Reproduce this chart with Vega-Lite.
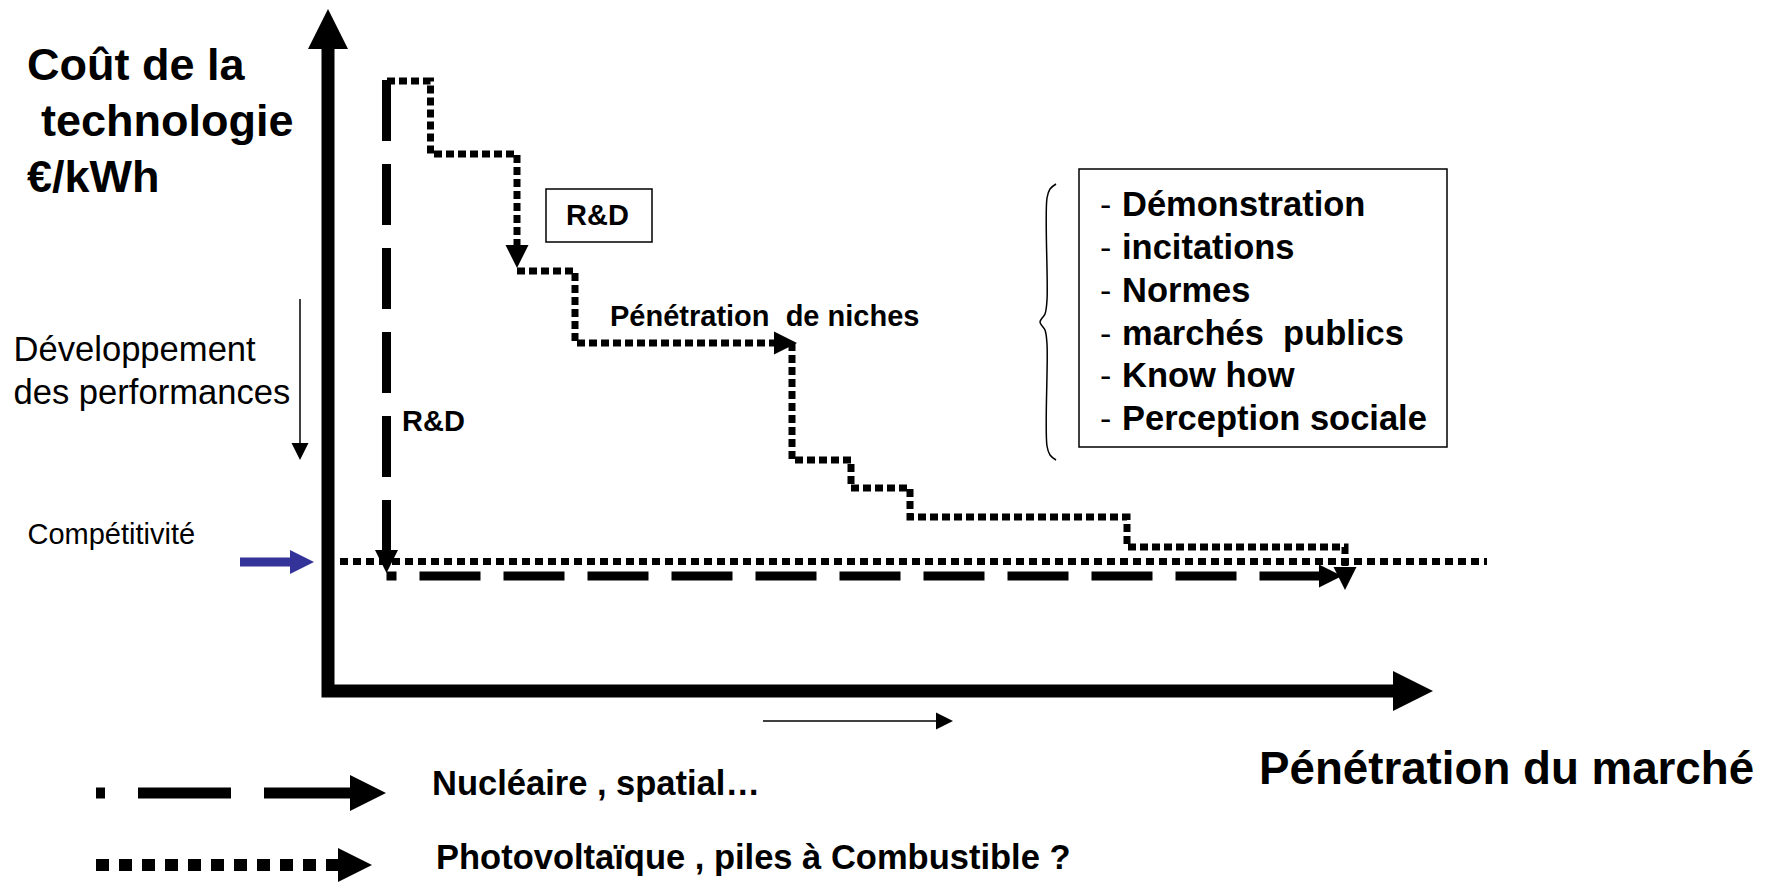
{
  "$schema": "https://vega.github.io/schema/vega-lite/v6.json",
  "width": 1767,
  "height": 882,
  "padding": 0,
  "autosize": {"type": "none"},
  "background": "white",
  "config": {"view": {"stroke": null}},
  "datasets": {
    "axesLine": [{"x": 328, "y": 48, "i": 0}, {"x": 328, "y": 691, "i": 1}, {"x": 1394, "y": 691, "i": 2}],
    "headUpBig": [{"x": 328, "y": 9}],
    "headRightBig": [{"x": 1433, "y": 691}],
    "compet": [{"x": 340, "y": 561.5, "i": 0}, {"x": 1487, "y": 561.5, "i": 1}],
    "nucV": [{"x": 386.5, "y": 80, "i": 0}, {"x": 386.5, "y": 560, "i": 1}],
    "nucH": [{"x": 386.5, "y": 576, "i": 0}, {"x": 1322, "y": 576, "i": 1}],
    "headsDown": [{"x": 386.5, "y": 573}, {"x": 517, "y": 268}, {"x": 1345, "y": 590}],
    "headsRight": [{"x": 1342, "y": 576}, {"x": 797, "y": 343}],
    "dotted": [
      {"seg": "a", "i": 0, "x": 387, "y": 81},
      {"seg": "a", "i": 1, "x": 430.5, "y": 81},
      {"seg": "a", "i": 2, "x": 430.5, "y": 154},
      {"seg": "a", "i": 3, "x": 517, "y": 154},
      {"seg": "a", "i": 4, "x": 517, "y": 250},
      {"seg": "b", "i": 0, "x": 517, "y": 271},
      {"seg": "b", "i": 1, "x": 575, "y": 271},
      {"seg": "b", "i": 2, "x": 575, "y": 343},
      {"seg": "b", "i": 3, "x": 775, "y": 343},
      {"seg": "c", "i": 0, "x": 792, "y": 343},
      {"seg": "c", "i": 1, "x": 792, "y": 460},
      {"seg": "c", "i": 2, "x": 851, "y": 460},
      {"seg": "c", "i": 3, "x": 851, "y": 488},
      {"seg": "c", "i": 4, "x": 910, "y": 488},
      {"seg": "c", "i": 5, "x": 910, "y": 517},
      {"seg": "c", "i": 6, "x": 1127, "y": 517},
      {"seg": "c", "i": 7, "x": 1127, "y": 547},
      {"seg": "c", "i": 8, "x": 1345, "y": 547},
      {"seg": "c", "i": 9, "x": 1345, "y": 572}
    ],
    "boxes": [{"x": 546, "x2": 652, "y": 189, "y2": 242}, {"x": 1079, "x2": 1447, "y": 169, "y2": 447}],
    "brace": [
      {"i": 0, "x": 1056, "y": 184},
      {"i": 1, "x": 1050, "y": 189},
      {"i": 2, "x": 1047, "y": 198},
      {"i": 3, "x": 1047, "y": 300},
      {"i": 4, "x": 1045, "y": 314},
      {"i": 5, "x": 1040, "y": 322},
      {"i": 6, "x": 1045, "y": 330},
      {"i": 7, "x": 1047, "y": 344},
      {"i": 8, "x": 1047, "y": 446},
      {"i": 9, "x": 1050, "y": 455},
      {"i": 10, "x": 1056, "y": 460}
    ],
    "thinLines": [
      {"seg": "d", "i": 0, "x": 300, "y": 299},
      {"seg": "d", "i": 1, "x": 300, "y": 447},
      {"seg": "r", "i": 0, "x": 763, "y": 721},
      {"seg": "r", "i": 1, "x": 940, "y": 721}
    ],
    "thinHeadDown": [{"x": 300, "y": 460}],
    "thinHeadRight": [{"x": 953, "y": 721}],
    "blueLine": [{"x": 240, "y": 562, "i": 0}, {"x": 292, "y": 562, "i": 1}],
    "blueHead": [{"x": 314, "y": 562}],
    "legDash": [{"x": 96, "y": 793, "i": 0}, {"x": 352, "y": 793, "i": 1}],
    "legDashHead": [{"x": 386, "y": 793}],
    "legDot": [{"x": 96, "y": 865, "i": 0}, {"x": 340, "y": 865, "i": 1}],
    "legDotHead": [{"x": 372, "y": 865}],
    "titleText": [
      {"t": "Coût de la", "x": 27, "y": 80},
      {"t": "technologie", "x": 41, "y": 136},
      {"t": "€/kWh", "x": 27, "y": 192}
    ],
    "axisText": [
      {"t": "Pénétration du marché", "x": 1259, "y": 784}
    ],
    "midText": [
      {"t": "Démonstration", "x": 1122, "y": 216},
      {"t": "incitations", "x": 1122, "y": 259},
      {"t": "Normes", "x": 1122, "y": 302},
      {"t": "marchés\u00a0 publics", "x": 1122, "y": 345},
      {"t": "Know how", "x": 1122, "y": 387},
      {"t": "Perception sociale", "x": 1122, "y": 430},
      {"t": "Nucléaire , spatial…", "x": 432, "y": 795},
      {"t": "Photovoltaïque , piles à Combustible ?", "x": 436, "y": 869}
    ],
    "dashText": [
      {"t": "-", "x": 1100, "y": 216},
      {"t": "-", "x": 1100, "y": 259},
      {"t": "-", "x": 1100, "y": 302},
      {"t": "-", "x": 1100, "y": 345},
      {"t": "-", "x": 1100, "y": 387},
      {"t": "-", "x": 1100, "y": 430}
    ],
    "smallBold": [
      {"t": "R&D", "x": 566, "y": 225},
      {"t": "R&D", "x": 402, "y": 431},
      {"t": "Pénétration\u00a0 de niches", "x": 610, "y": 326}
    ],
    "regText": [
      {"t": "Développement", "x": 13.5, "y": 361},
      {"t": "des performances", "x": 13.5, "y": 404}
    ],
    "competText": [{"t": "Compétitivité", "x": 27.5, "y": 544}]
  },
  "encoding": {
    "x": {"field": "x", "type": "quantitative", "scale": {"domain": [0, 1767], "nice": false, "zero": false}, "axis": null},
    "y": {"field": "y", "type": "quantitative", "scale": {"domain": [0, 882], "nice": false, "zero": false, "reverse": true}, "axis": null}
  },
  "layer": [
    {"data": {"name": "boxes"}, "mark": {"type": "rect", "fill": "white", "stroke": "black", "strokeWidth": 1.5}, "encoding": {"x2": {"field": "x2"}, "y2": {"field": "y2"}}},
    {"data": {"name": "axesLine"}, "mark": {"type": "line", "color": "black", "strokeWidth": 13, "strokeJoin": "miter", "strokeCap": "butt"}, "encoding": {"order": {"field": "i"}}},
    {"data": {"name": "headUpBig"}, "mark": {"type": "point", "shape": "M0,0L-2,-1L-2,1Z", "filled": true, "opacity": 1, "color": "black", "strokeWidth": 0, "size": 1600, "angle": 270}},
    {"data": {"name": "headRightBig"}, "mark": {"type": "point", "shape": "M0,0L-2,-1L-2,1Z", "filled": true, "opacity": 1, "color": "black", "strokeWidth": 0, "size": 1600, "angle": 0}},
    {"data": {"name": "compet"}, "mark": {"type": "line", "color": "black", "strokeWidth": 7, "strokeDash": [8, 5], "strokeCap": "butt"}, "encoding": {"order": {"field": "i"}}},
    {"data": {"name": "nucV"}, "mark": {"type": "line", "color": "black", "strokeWidth": 9, "strokeDash": [61, 23], "strokeCap": "butt"}, "encoding": {"order": {"field": "i"}}},
    {"data": {"name": "nucH"}, "mark": {"type": "line", "color": "black", "strokeWidth": 9, "strokeDash": [61, 23], "strokeDashOffset": 51, "strokeCap": "butt"}, "encoding": {"order": {"field": "i"}}},
    {"data": {"name": "dotted"}, "mark": {"type": "line", "color": "black", "strokeWidth": 7, "strokeDash": [8, 4], "strokeCap": "butt", "strokeJoin": "miter"}, "encoding": {"order": {"field": "i"}, "detail": {"field": "seg"}}},
    {"data": {"name": "headsDown"}, "mark": {"type": "point", "shape": "M0,0L-2,-1L-2,1Z", "filled": true, "opacity": 1, "color": "black", "strokeWidth": 0, "size": 529, "angle": 90}},
    {"data": {"name": "headsRight"}, "mark": {"type": "point", "shape": "M0,0L-2,-1L-2,1Z", "filled": true, "opacity": 1, "color": "black", "strokeWidth": 0, "size": 529, "angle": 0}},
    {"data": {"name": "brace"}, "mark": {"type": "line", "color": "black", "strokeWidth": 1.5, "interpolate": "catmull-rom"}, "encoding": {"order": {"field": "i"}}},
    {"data": {"name": "thinLines"}, "mark": {"type": "line", "color": "black", "strokeWidth": 1.5}, "encoding": {"order": {"field": "i"}, "detail": {"field": "seg"}}},
    {"data": {"name": "thinHeadDown"}, "mark": {"type": "point", "shape": "M0,0L-2,-1L-2,1Z", "filled": true, "opacity": 1, "color": "black", "strokeWidth": 0, "size": 289, "angle": 90}},
    {"data": {"name": "thinHeadRight"}, "mark": {"type": "point", "shape": "M0,0L-2,-1L-2,1Z", "filled": true, "opacity": 1, "color": "black", "strokeWidth": 0, "size": 289, "angle": 0}},
    {"data": {"name": "blueLine"}, "mark": {"type": "line", "color": "#333399", "strokeWidth": 9, "strokeCap": "butt"}, "encoding": {"order": {"field": "i"}}},
    {"data": {"name": "blueHead"}, "mark": {"type": "point", "shape": "M0,0L-2,-1L-2,1Z", "filled": true, "opacity": 1, "color": "#333399", "strokeWidth": 0, "size": 576, "angle": 0}},
    {"data": {"name": "legDash"}, "mark": {"type": "line", "color": "black", "strokeWidth": 11, "strokeDash": [93, 33], "strokeDashOffset": 84, "strokeCap": "butt"}, "encoding": {"order": {"field": "i"}}},
    {"data": {"name": "legDashHead"}, "mark": {"type": "point", "shape": "M0,0L-2,-1L-2,1Z", "filled": true, "opacity": 1, "color": "black", "strokeWidth": 0, "size": 1296, "angle": 0}},
    {"data": {"name": "legDot"}, "mark": {"type": "line", "color": "black", "strokeWidth": 12, "strokeDash": [13, 10], "strokeCap": "butt"}, "encoding": {"order": {"field": "i"}}},
    {"data": {"name": "legDotHead"}, "mark": {"type": "point", "shape": "M0,0L-2,-1L-2,1Z", "filled": true, "opacity": 1, "color": "black", "strokeWidth": 0, "size": 1156, "angle": 0}},
    {"data": {"name": "titleText"}, "mark": {"type": "text", "font": "Liberation Sans", "fontWeight": "bold", "fontSize": 45, "align": "left", "baseline": "alphabetic", "color": "black"}, "encoding": {"text": {"field": "t"}}},
    {"data": {"name": "axisText"}, "mark": {"type": "text", "font": "Liberation Sans", "fontWeight": "bold", "fontSize": 45.7, "align": "left", "baseline": "alphabetic", "color": "black"}, "encoding": {"text": {"field": "t"}}},
    {"data": {"name": "midText"}, "mark": {"type": "text", "font": "Liberation Sans", "fontWeight": "bold", "fontSize": 34.5, "align": "left", "baseline": "alphabetic", "color": "black"}, "encoding": {"text": {"field": "t"}}},
    {"data": {"name": "dashText"}, "mark": {"type": "text", "font": "Liberation Sans", "fontWeight": "normal", "fontSize": 34, "align": "left", "baseline": "alphabetic", "color": "black"}, "encoding": {"text": {"field": "t"}}},
    {"data": {"name": "smallBold"}, "mark": {"type": "text", "font": "Liberation Sans", "fontWeight": "bold", "fontSize": 29, "align": "left", "baseline": "alphabetic", "color": "black"}, "encoding": {"text": {"field": "t"}}},
    {"data": {"name": "regText"}, "mark": {"type": "text", "font": "Liberation Sans", "fontWeight": "normal", "fontSize": 34.6, "align": "left", "baseline": "alphabetic", "color": "black"}, "encoding": {"text": {"field": "t"}}},
    {"data": {"name": "competText"}, "mark": {"type": "text", "font": "Liberation Sans", "fontWeight": "normal", "fontSize": 29, "align": "left", "baseline": "alphabetic", "color": "black"}, "encoding": {"text": {"field": "t"}}}
  ]
}
